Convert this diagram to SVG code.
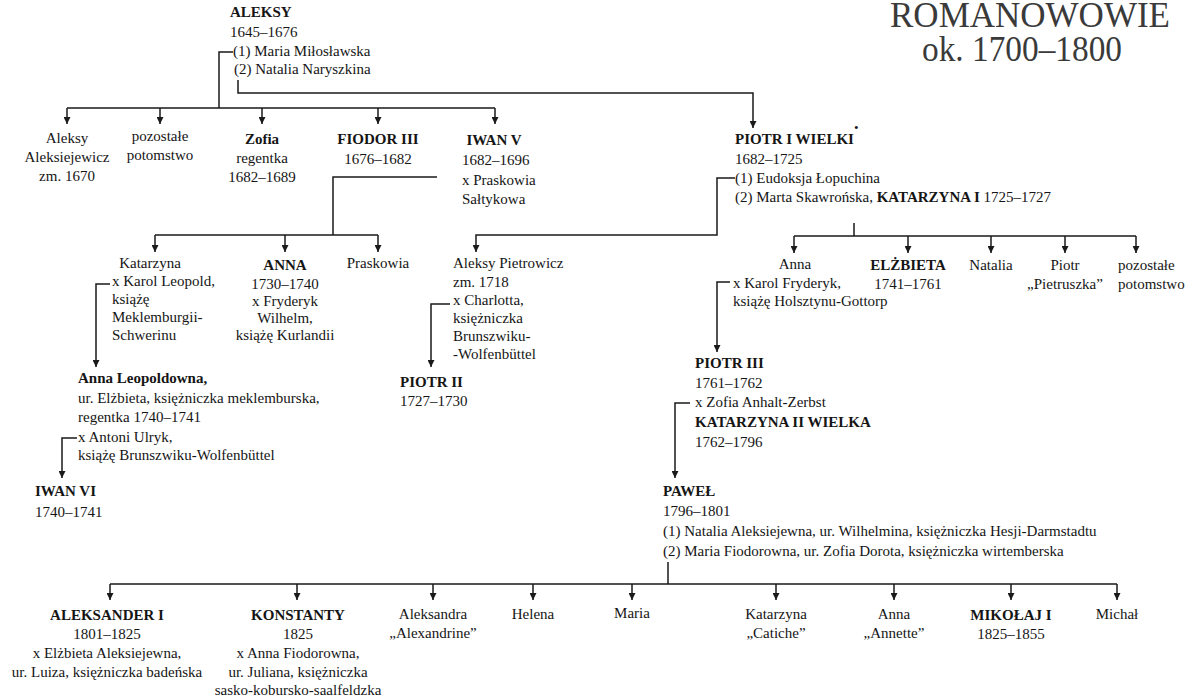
<svg xmlns="http://www.w3.org/2000/svg" width="1195" height="700" viewBox="0 0 1195 700">
<defs>
<marker id="arr" viewBox="0 0 10 10" refX="10" refY="5" markerWidth="7" markerHeight="7" markerUnits="userSpaceOnUse" orient="auto">
<path d="M0,0 L10,5 L0,10 z" fill="#1a1a1a"/>
</marker>
<style>
text{font-family:"Liberation Serif","Times New Roman",serif;font-size:15px;fill:#151515}
.b{font-weight:bold}
.m{text-anchor:middle}
.title{font-size:35px;fill:#3a3a3a;text-anchor:middle}
.ln{fill:none;stroke:#1a1a1a;stroke-width:1.5}
.ar{fill:none;stroke:#1a1a1a;stroke-width:1.5;marker-end:url(#arr)}
</style>
</defs>
<rect width="1195" height="700" fill="#ffffff"/>

<g id="title">
<text class="title"><tspan x="1030" y="27">ROMANOWOWIE</tspan><tspan x="1022" y="61" textLength="200" lengthAdjust="spacingAndGlyphs">ok. 1700–1800</tspan></text>
</g>

<g id="connectors">
<path class="ln" d="M233,52 H219 V108 M67,108 H495"/>
<path class="ar" d="M67,108 V124"/>
<path class="ar" d="M160,108 V124"/>
<path class="ar" d="M262,108 V124"/>
<path class="ar" d="M378,108 V124"/>
<path class="ar" d="M495,108 V124"/>
<path class="ar" d="M238,80 V93 H753 V128"/>
<path class="ln" d="M437,177 H333 V235 M155,235 H378"/>
<path class="ar" d="M155,235 V252"/>
<path class="ar" d="M285,235 V252"/>
<path class="ar" d="M378,235 V252"/>
<path class="ar" d="M110,284 H96 V367"/>
<path class="ar" d="M77,438 H62 V478"/>
<path class="ar" d="M450,304 H431 V367"/>
<path class="ar" d="M735,178 H717 V235 H476 V252"/>
<path class="ln" d="M854,223 V236 M794,236 H1136"/>
<path class="ar" d="M794,236 V253"/>
<path class="ar" d="M908,236 V253"/>
<path class="ar" d="M991,236 V253"/>
<path class="ar" d="M1065,236 V253"/>
<path class="ar" d="M1136,236 V253"/>
<path class="ar" d="M730,282 H717 V352"/>
<path class="ar" d="M690,403 H675 V478"/>
<path class="ln" d="M668,562 V584 M110,584 H1117"/>
<path class="ar" d="M110,584 V600"/>
<path class="ar" d="M297,584 V600"/>
<path class="ar" d="M433,584 V600"/>
<path class="ar" d="M533,584 V600"/>
<path class="ar" d="M632,584 V600"/>
<path class="ar" d="M776,584 V600"/>
<path class="ar" d="M894,584 V600"/>
<path class="ar" d="M1011,584 V600"/>
<path class="ar" d="M1117,584 V600"/>
</g>

<g id="aleksy">
<text class="b" x="230" y="17">ALEKSY</text>
<text x="230" y="37">1645–1676</text>
<text x="233" y="56">(1) Maria Miłosławska</text>
<text x="234" y="74">(2) Natalia Naryszkina</text>
</g>

<g id="aleksy-aleksiejewicz">
<text class="m" x="67" y="143">Aleksy</text>
<text class="m" x="67" y="162">Aleksiejewicz</text>
<text class="m" x="67" y="181">zm. 1670</text>
</g>
<g id="pozostale1">
<text class="m" x="160" y="141">pozostałe</text>
<text class="m" x="160" y="160">potomstwo</text>
</g>
<g id="zofia">
<text class="m b" x="262" y="144">Zofia</text>
<text class="m" x="262" y="163">regentka</text>
<text class="m" x="262" y="182">1682–1689</text>
</g>
<g id="fiodor">
<text class="m b" x="378" y="144">FIODOR III</text>
<text class="m" x="378" y="164">1676–1682</text>
</g>
<g id="iwan5">
<text class="m b" x="494" y="145">IWAN V</text>
<text x="462" y="165">1682–1696</text>
<text x="462" y="185">x Praskowia</text>
<text x="462" y="204">Sałtykowa</text>
</g>
<g id="piotr1">
<text class="b" x="735" y="144">PIOTR I WIELKI<tspan dy="-12" style="font-size:13px;font-weight:normal">•</tspan></text>
<text x="735" y="164">1682–1725</text>
<text x="735" y="183">(1) Eudoksja Łopuchina</text>
<text x="735" y="202">(2) Marta Skawrońska, <tspan class="b">KATARZYNA I</tspan>  1725–1727</text>
</g>

<g id="katarzyna-iw">
<text class="m" x="150" y="268">Katarzyna</text>
<text x="112" y="286">x Karol Leopold,</text>
<text x="112" y="304">książę</text>
<text x="112" y="322">Meklemburgii-</text>
<text x="112" y="340">Schwerinu</text>
</g>
<g id="anna-iw">
<text class="m b" x="285" y="270">ANNA</text>
<text class="m" x="285" y="289">1730–1740</text>
<text class="m" x="285" y="306">x Fryderyk</text>
<text class="m" x="285" y="323">Wilhelm,</text>
<text class="m" x="285" y="340">książę Kurlandii</text>
</g>
<g id="praskowia">
<text class="m" x="378" y="268">Praskowia</text>
</g>
<g id="aleksy-pietrowicz">
<text x="453" y="268">Aleksy Pietrowicz</text>
<text x="453" y="287">zm. 1718</text>
<text x="453" y="305">x Charlotta,</text>
<text x="453" y="323">księżniczka</text>
<text x="453" y="341">Brunszwiku-</text>
<text x="453" y="359">-Wolfenbüttel</text>
</g>
<g id="anna-p">
<text class="m" x="795" y="269">Anna</text>
<text x="733" y="288">x Karol Fryderyk,</text>
<text x="733" y="306">książę Holsztynu-Gottorp</text>
</g>
<g id="elzbieta">
<text class="m b" x="908" y="270">ELŻBIETA</text>
<text class="m" x="908" y="289">1741–1761</text>
</g>
<g id="natalia">
<text class="m" x="991" y="270">Natalia</text>
</g>
<g id="piotr-p">
<text class="m" x="1065" y="270">Piotr</text>
<text class="m" x="1065" y="289">„Pietruszka”</text>
</g>
<g id="pozostale2">
<text x="1118" y="270">pozostałe</text>
<text x="1118" y="289">potomstwo</text>
</g>

<g id="anna-leopoldowna">
<text class="b" x="78" y="383">Anna Leopoldowna,</text>
<text x="78" y="403">ur. Elżbieta, księżniczka meklemburska,</text>
<text x="78" y="422">regentka 1740–1741</text>
<text x="78" y="442">x Antoni Ulryk,</text>
<text x="78" y="460">książę Brunszwiku-Wolfenbüttel</text>
</g>
<g id="iwan6">
<text class="b" x="35" y="496">IWAN VI</text>
<text x="35" y="517">1740–1741</text>
</g>
<g id="piotr2">
<text class="b" x="400" y="387">PIOTR II</text>
<text x="400" y="406">1727–1730</text>
</g>
<g id="piotr3">
<text class="b" x="695" y="368">PIOTR III</text>
<text x="695" y="388">1761–1762</text>
<text x="695" y="407">x Zofia Anhalt-Zerbst</text>
<text class="b" x="695" y="427">KATARZYNA II WIELKA</text>
<text x="695" y="447">1762–1796</text>
</g>
<g id="pawel">
<text class="b" x="663" y="496">PAWEŁ</text>
<text x="663" y="516">1796–1801</text>
<text x="663" y="536">(1) Natalia Aleksiejewna, ur. Wilhelmina, księżniczka Hesji-Darmstadtu</text>
<text x="663" y="556">(2) Maria Fiodorowna, ur. Zofia Dorota, księżniczka wirtemberska</text>
</g>

<g id="aleksander1">
<text class="m b" x="107" y="620">ALEKSANDER I</text>
<text class="m" x="107" y="639">1801–1825</text>
<text class="m" x="107" y="658">x Elżbieta Aleksiejewna,</text>
<text class="m" x="107" y="677">ur. Luiza, księżniczka badeńska</text>
</g>
<g id="konstanty">
<text class="m b" x="298" y="620">KONSTANTY</text>
<text class="m" x="298" y="639">1825</text>
<text class="m" x="298" y="658">x Anna Fiodorowna,</text>
<text class="m" x="298" y="677">ur. Juliana, księżniczka</text>
<text class="m" x="298" y="695">sasko-kobursko-saalfeldzka</text>
</g>
<g id="aleksandra">
<text class="m" x="433" y="619">Aleksandra</text>
<text class="m" x="433" y="638">„Alexandrine”</text>
</g>
<g id="helena">
<text class="m" x="533" y="619">Helena</text>
</g>
<g id="maria">
<text class="m" x="632" y="618">Maria</text>
</g>
<g id="katarzyna-p">
<text class="m" x="776" y="619">Katarzyna</text>
<text class="m" x="776" y="638">„Catiche”</text>
</g>
<g id="anna-p2">
<text class="m" x="894" y="619">Anna</text>
<text class="m" x="894" y="638">„Annette”</text>
</g>
<g id="mikolaj1">
<text class="m b" x="1011" y="620">MIKOŁAJ I</text>
<text class="m" x="1011" y="639">1825–1855</text>
</g>
<g id="michal">
<text class="m" x="1117" y="619">Michał</text>
</g>
</svg>
